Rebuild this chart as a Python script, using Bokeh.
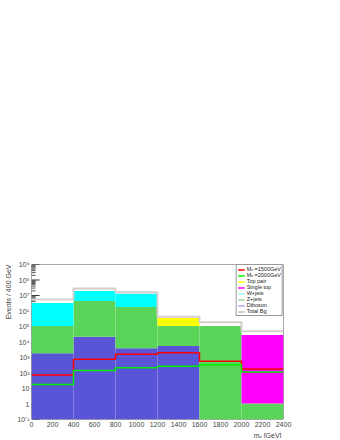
import numpy as np
from bokeh.plotting import figure
from bokeh.models import (FixedTicker, CustomJSTickFormatter, Legend, LegendItem,
                          Title, Range1d)
from bokeh.embed import file_html
from bokeh.resources import INLINE

# ---- data ----
bin_edges = [0, 400, 800, 1200, 1600, 2000, 2400]
diboson    = [1900, 22000, 4000, 5500, 0, 0]
zjets      = [105000, 4380000, 1796000, 101500, 107000, 1.07]
wjets      = [3190000, 15100000, 11200000, 0, 0, 0]
top_pair   = [0, 0, 0, 243000, 0, 0]
single_top = [0, 0, 0, 0, 0, 28000]
total_bg   = [5500000, 28000000, 16000000, 430000, 190000, 49000]
sig_1500   = [74, 780, 1600, 2000, 575, 178]
sig_2000   = [18, 144, 215, 276, 335, 115]

x_ticks = [0, 200, 400, 600, 800, 1000, 1200, 1400, 1600, 1800, 2000, 2200, 2400]
y_ticks = [1e-1, 1, 1e1, 1e2, 1e3, 1e4, 1e5, 1e6, 1e7, 1e8, 1e9]
y_tick_labels = ["10\u207b\u00b9", "1", "10", "10\u00b2", "10\u00b3", "10\u2074",
                 "10\u2075", "10\u2076", "10\u2077", "10\u2078", "10\u2079"]

layer_names  = ["Diboson", "Z+jets", "W+jets", "Top pair", "Single top"]
layer_values = [diboson, zjets, wjets, top_pair, single_top]
layer_fill   = ["#5a55d6", "#5ad55a", "#00ffff", "#ffff00", "#ff00ff"]

FONT = "Liberation Sans"
x_lo, x_hi = 0, 2400
y_lo, y_hi = 1e-1, 1e9

p = figure(width=340, height=438, y_axis_type="log",
           x_range=Range1d(x_lo, x_hi), y_range=Range1d(y_lo, y_hi),
           output_backend="svg", toolbar_location=None,
           min_border_left=31, min_border_top=264, min_border_right=57,
           min_border_bottom=18)
p.grid.visible = False
p.outline_line_color = None
p.background_fill_color = "white"

# frame drawn beneath the histograms (as in ROOT)
p.quad(left=[x_lo], right=[x_hi], bottom=[y_lo], top=[y_hi],
       fill_color=None, line_color="#555555", line_width=1)

# y-axis ticks drawn beneath the histograms
minor = [k * 10.0 ** n for n in range(-1, 9) for k in range(2, 10)]
major_len = (x_hi - x_lo) * 0.032
minor_len = (x_hi - x_lo) * 0.016
p.segment(x0=[x_lo] * len(y_ticks), y0=y_ticks, x1=[x_lo + major_len] * len(y_ticks),
          y1=y_ticks, line_color="#333333", line_width=1)
p.segment(x0=[x_lo] * len(minor), y0=minor, x1=[x_lo + minor_len] * len(minor),
          y1=minor, line_color="#555555", line_width=1)

# stacked backgrounds
edges = np.array(bin_edges, dtype=float)
cum = np.zeros(len(bin_edges) - 1)
for name, vals, col in zip(layer_names, layer_values, layer_fill):
    bottom = np.maximum(cum, y_lo)
    cum = cum + np.array(vals, dtype=float)
    top = np.maximum(cum, y_lo)
    p.quad(left=edges[:-1], right=edges[1:], bottom=bottom, top=top,
           fill_color=col, line_color=None)

def step_y(v):
    return list(v) + [v[-1]]

r_tot = p.step(x=bin_edges, y=step_y(total_bg), mode="after",
               line_color="#d4cece", line_width=2)
r_s1 = p.step(x=bin_edges, y=step_y(sig_1500), mode="after",
              line_color="#ff0000", line_width=1.5)
r_s2 = p.step(x=bin_edges, y=step_y(sig_2000), mode="after",
              line_color="#00ee00", line_width=1.5)

# legend proxies (line style entries)
nan = [float("nan")]
legend_line_cols = {"Top pair": "#ffff00", "Single top": "#ff00ff", "W+jets": "#99ffee",
                    "Z+jets": "#a0dca0", "Diboson": "#aaaaee"}
proxies = {k: p.line(x=nan, y=nan, line_color=c, line_width=1.5)
           for k, c in legend_line_cols.items()}

items = [LegendItem(label="M\u1d65 =1500GeV", renderers=[r_s1]),
         LegendItem(label="M\u1d65 =2000GeV", renderers=[r_s2])]
for k in ["Top pair", "Single top", "W+jets", "Z+jets", "Diboson"]:
    items.append(LegendItem(label=k, renderers=[proxies[k]]))
items.append(LegendItem(label="Total Bg", renderers=[r_tot]))

legend = Legend(items=items, location="top_right", margin=0, padding=1, spacing=0,
                label_text_font=FONT, label_text_font_size="5.5px",
                label_text_color="#222222",
                label_height=5, glyph_height=5, glyph_width=7, label_standoff=2,
                border_line_color="#333333", border_line_width=1,
                background_fill_color="white", background_fill_alpha=1)
p.add_layout(legend)

# axes
xa = p.xaxis[0]
xa.ticker = FixedTicker(ticks=x_ticks, minor_ticks=[])
xa.major_tick_line_color = None
xa.minor_tick_line_color = None
xa.major_tick_out = 0
xa.major_tick_in = 0
xa.minor_tick_out = 0
xa.minor_tick_in = 0
xa.axis_line_color = None
xa.major_label_text_font = FONT
xa.major_label_text_font_size = "7px"
xa.major_label_standoff = 2

ya = p.yaxis[0]
ya.ticker = FixedTicker(ticks=y_ticks, minor_ticks=[])
ya.formatter = CustomJSTickFormatter(args=dict(vals=y_ticks, labs=y_tick_labels), code="""
    let best = 0, bd = 1e99;
    for (let i = 0; i < vals.length; i++) {
        const d = Math.abs(Math.log10(vals[i]) - Math.log10(tick));
        if (d < bd) { bd = d; best = i; }
    }
    return labs[best];
""")
ya.major_tick_line_color = None
ya.minor_tick_line_color = None
ya.major_tick_out = 0
ya.major_tick_in = 0
ya.minor_tick_out = 0
ya.minor_tick_in = 0
ya.axis_line_color = None
ya.major_label_text_font = FONT
ya.major_label_text_font_size = "7px"
ya.major_label_standoff = 2

p.add_layout(Title(text="Events / 400 GeV", align="right", text_font=FONT,
                   text_font_size="7px", text_font_style="normal", standoff=5,
                   offset=0), "left")
p.add_layout(Title(text="m\u1d65  [GeV]", align="right", text_font=FONT,
                   text_font_size="7px", text_font_style="normal", standoff=0,
                   offset=0), "below")

open("out.html", "w").write(file_html(p, INLINE))
